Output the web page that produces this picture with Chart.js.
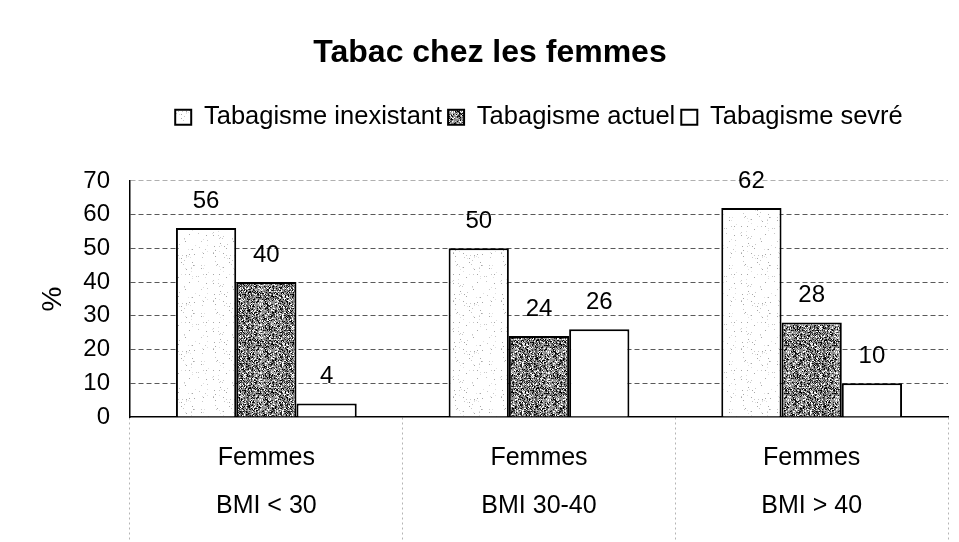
<!DOCTYPE html>
<html>
<head>
<meta charset="utf-8">
<title>Tabac chez les femmes</title>
<script src="https://cdn.jsdelivr.net/npm/chart.js@4.4.0/dist/chart.umd.min.js"></script>
<style>
    html, body { margin: 0; padding: 0; background: #fff; }
</style>
</head>
<body>
<canvas id="chart" width="959" height="542"></canvas>
<script>
// values
const categories = [['Femmes', 'BMI < 30'], ['Femmes', 'BMI 30-40'], ['Femmes', 'BMI > 40']];
const seriesNames = ['Tabagisme inexistant', 'Tabagisme actuel', 'Tabagisme sevré'];
const inexistant = [56, 50, 62];
const actuel = [40, 24, 28];
const sevre = [4, 26, 10];
const yTicks = [0, 10, 20, 30, 40, 50, 60, 70];

const FONT = "'Liberation Sans', Arial, Helvetica, sans-serif";

// stippled fills, like the old Excel print
function makeSpeckle(base, dots, density, seed) {
    const c = document.createElement('canvas');
    c.width = 48;
    c.height = 48;
    const g = c.getContext('2d');
    g.fillStyle = base;
    g.fillRect(0, 0, 48, 48);
    let s = seed;
    const next = () => {
        s = (Math.imul(s, 1103515245) + 12345) >>> 0;
        return s / 4294967296;
    };
    for (let y = 0; y < 48; y++) {
        for (let x = 0; x < 48; x++) {
            if (next() < density) {
                g.fillStyle = dots[Math.floor(next() * dots.length)];
                g.fillRect(x, y, 1, 1);
            }
        }
    }
    return g.createPattern(c, 'repeat');
}

const lightFill = makeSpeckle('#ffffff', ['#c8c8c8', '#a8a8a8', '#e0e0e0'], 0.05, 7);
const darkFill = makeSpeckle('#909090', ['#000000', '#2a2a2a', '#ffffff', '#c8c8c8', '#5a5a5a'], 0.62, 13);

// numbers above each bar
const valueLabels = {
    id: 'valueLabels',
    afterDatasetsDraw(chart) {
        const ctx = chart.ctx;
        ctx.save();
        ctx.font = '24px ' + FONT;
        ctx.fillStyle = '#000';
        ctx.textAlign = 'center';
        ctx.textBaseline = 'middle';
        chart.data.datasets.forEach((ds, i) => {
            chart.getDatasetMeta(i).data.forEach((bar, j) => {
                ctx.fillText(String(ds.data[j]), bar.x, bar.y - 27);
            });
        });
        ctx.restore();
    }
};

new Chart(document.getElementById('chart'), {
    type: 'bar',
    data: {
        labels: categories,
        datasets: [
            { label: seriesNames[0], data: inexistant, backgroundColor: lightFill, borderColor: '#000', borderWidth: 2 },
            { label: seriesNames[1], data: actuel, backgroundColor: darkFill, borderColor: '#000', borderWidth: 2 },
            { label: seriesNames[2], data: sevre, backgroundColor: '#ffffff', borderColor: '#000', borderWidth: 2 }
        ]
    },
    options: {
        responsive: false,
        animation: false,
        layout: {
            padding: { left: 32, right: 11, top: 0, bottom: 0 }
        },
        datasets: {
            bar: { categoryPercentage: 0.663, barPercentage: 1 }
        },
        plugins: {
            title: {
                display: true,
                text: 'Tabac chez les femmes',
                color: '#000',
                font: { family: FONT, size: 32, weight: 'bold', lineHeight: 1.2 },
                padding: { top: 34, bottom: 26 }
            },
            legend: {
                position: 'top',
                fullSize: false,
                weight: 1800,
                labels: {
                    color: '#000',
                    font: { family: FONT, size: 25.5 },
                    boxWidth: 16,
                    boxHeight: 15,
                    padding: 6
                }
            },
            // empty subtitle only keeps the gap between legend and plot
            subtitle: {
                display: true,
                text: '',
                weight: 1500,
                font: { size: 12, lineHeight: 1 },
                padding: { top: 29, bottom: 0 }
            },
            tooltip: { enabled: false }
        },
        scales: {
            x: {
                grid: {
                    drawOnChartArea: false,
                    tickLength: 125,
                    tickColor: '#b4b4b4',
                    tickBorderDash: [2, 3],
                    tickWidth: 1
                },
                border: { color: '#000', width: 1.5 },
                ticks: {
                    color: '#000',
                    font: { family: FONT, size: 25, lineHeight: 1.92 },
                    padding: -108,
                    maxRotation: 0
                },
                afterFit: function(scale) {
                    scale.height = 125;
                }
            },
            y: {
                min: 0,
                max: 70,
                afterBuildTicks: function(scale) {
                    scale.ticks = yTicks.map(v => ({ value: v }));
                },
                grid: {
                    drawTicks: false,
                    color: function(context) {
                        if (!context.tick) return '#5a5a5a';
                        if (context.tick.value === 0) return 'rgba(0,0,0,0)';
                        if (context.tick.value === 70) return '#b0b0b0';
                        return '#5a5a5a';
                    }
                },
                border: { color: '#000', width: 1.5, dash: [5, 3] },
                ticks: {
                    color: '#000',
                    font: { family: FONT, size: 24 },
                    padding: 20
                },
                title: {
                    display: true,
                    text: '%',
                    color: '#000',
                    font: { family: FONT, size: 28 },
                    padding: { top: 4, bottom: 0 }
                },
                afterFit: function(scale) {
                    scale.width = 98;
                }
            }
        }
    },
    plugins: [valueLabels]
});
</script>
</body>
</html>
